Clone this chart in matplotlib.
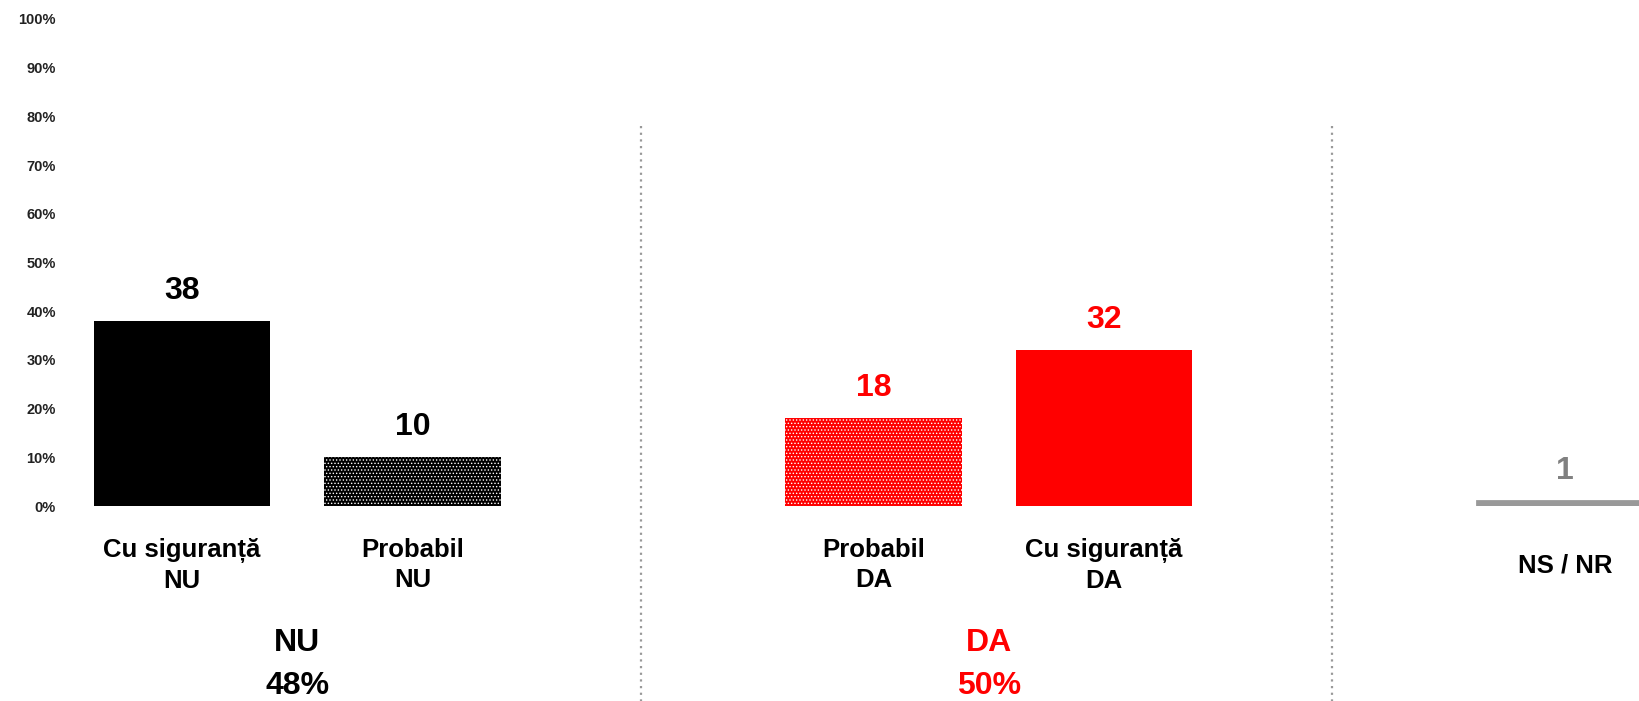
import matplotlib
matplotlib.use("Agg")
import matplotlib.pyplot as plt

# Date
categorii = ['Cu siguranță\nNU', 'Probabil\nNU', 'Probabil\nDA', 'Cu siguranță\nDA', 'NS / NR']
pozitii = [0, 1, 3, 4, 6]
valori = [38, 10, 18, 32, 1]
culori = ['#000000', '#000000', '#FF0000', '#FF0000', '#999999']
culori_text = ['#000000', '#000000', '#FF0000', '#FF0000', '#808080']
hasuri = [None, '.....', '.....', None, None]

grupuri = ['NU\n48%', 'DA\n50%']
grupuri_x = [0.5, 3.5]
grupuri_culori = ['#000000', '#FF0000']
separatoare = [1.99, 4.99]
yticks = list(range(0, 101, 10))

plt.rcParams['font.family'] = ['Liberation Sans', 'DejaVu Sans']
plt.rcParams['hatch.color'] = 'white'
plt.rcParams['hatch.linewidth'] = 0.6

W, H = 1639, 701
fig = plt.figure(figsize=(W / 100, H / 100), dpi=100)
# axa: 0% la y=506px, 100% la y=19px; x de la 60px la 1639px
ax = fig.add_axes([60 / W, (H - 506) / H, (W - 60) / W, 487 / H])
ax.set_ylim(0, 100)
ax.set_xlim((60 - 182) / 230.5, (1639 - 182) / 230.5)

for x, v, c, h in zip(pozitii, valori, culori, hasuri):
    ax.bar(x, v, width=0.764, color=c, hatch=h, linewidth=0)
    if v < 2:
        # bara NS e desenata mai groasa
        ax.bar(x, v, width=0.764, color=c, edgecolor=c, linewidth=2)

for x, v, ct in zip(pozitii, valori, culori_text):
    ax.annotate(str(v), (x, v), xytext=(0, 21.5), textcoords='offset points',
                ha='center', va='center', fontsize=23, fontweight='bold', color=ct)

for x, lab in zip(pozitii, categorii):
    ax.text(x, -12.2, lab, ha='center', va='center', fontsize=18.5, fontweight='bold',
            linespacing=1.32, clip_on=False)

for x, lab, c in zip(grupuri_x, grupuri, grupuri_culori):
    ax.text(x, -32.6, lab, ha='center', va='center', fontsize=23, fontweight='bold',
            color=c, linespacing=1.55, clip_on=False)

for s in separatoare:
    ax.plot([s, s], [78, -40], color='#999999', lw=1.6, linestyle=(0, (1, 2)), clip_on=False)

ax.set_yticks(yticks)
ax.set_yticklabels([f'{t}%' for t in yticks], fontsize=10.5, fontweight='bold', color='#222222')
ax.tick_params(axis='y', length=0, pad=3)
ax.set_xticks([])
for sp in ax.spines.values():
    sp.set_visible(False)

fig.savefig('out.png', dpi=100)
